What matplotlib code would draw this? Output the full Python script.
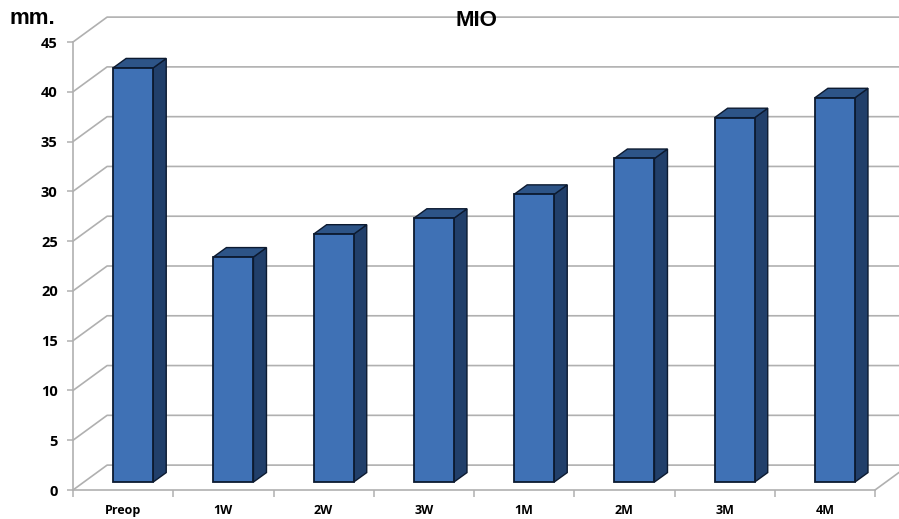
import matplotlib
matplotlib.use("Agg")
import matplotlib.pyplot as plt
from matplotlib.patches import Polygon

# maximum mouth opening by visit
visits = ["Preop", "1W", "2W", "3W", "1M", "2M", "3M", "4M"]
mio = [41.6, 22.6, 24.9, 26.5, 28.9, 32.5, 36.6, 38.6]
y_ticks = [0, 5, 10, 15, 20, 25, 30, 35, 40, 45]

GRID = "#b0b0b0"
FRONT = "#3f71b5"
TOP = "#2d5487"
SIDE = "#213f6a"
EDGE = "#0c1a30"
LABEL_FONT = "Open Sans"

W, H = 899, 519
fig = plt.figure(figsize=(W / 100, H / 100), dpi=100)
ax = fig.add_axes([73 / W, (H - 490) / H, (875 - 73) / W, (490 - 42) / H])
ax.set_xlim(0, len(visits))
ax.set_ylim(0, 45)

# offsets of the back wall and of the bar depth, in data units
wall_dx, wall_dy = 0.34, 2.5
bar_dx, bar_dy = 0.13, 0.95
bar_x, bar_y = 0.1, 0.8
bar_w = 0.4

for v in y_ticks:
    ax.plot([0, wall_dx, 9], [v, v + wall_dy, v + wall_dy], color=GRID, lw=1.2,
            clip_on=False, zorder=1)
ax.plot([8, 8 + wall_dx], [0, wall_dy], color=GRID, lw=1.2, clip_on=False, zorder=1)

centers = [i + 0.5 + bar_x for i in range(len(visits))]
ax.bar(centers, mio, width=bar_w, bottom=bar_y, color=FRONT, edgecolor=EDGE,
       linewidth=1.3, zorder=3)

for c, v in zip(centers, mio):
    x0 = c - bar_w / 2
    x1 = c + bar_w / 2
    y0 = bar_y
    y1 = bar_y + v
    ax.add_patch(Polygon([(x1, y0), (x1 + bar_dx, y0 + bar_dy), (x1 + bar_dx, y1 + bar_dy), (x1, y1)],
                         facecolor=SIDE, edgecolor=EDGE, lw=1.0, zorder=2))
    ax.add_patch(Polygon([(x0, y1), (x0 + bar_dx, y1 + bar_dy), (x1 + bar_dx, y1 + bar_dy), (x1, y1)],
                         facecolor=TOP, edgecolor=EDGE, lw=1.0, zorder=2))

for s in ["top", "right"]:
    ax.spines[s].set_visible(False)
for s in ["left", "bottom"]:
    ax.spines[s].set_color(GRID)
    ax.spines[s].set_linewidth(1.2)

ax.set_yticks(y_ticks)
ax.tick_params(axis="y", length=4, width=1.1, color=GRID, pad=7, labelsize=10.5)
for t in ax.get_yticklabels():
    t.set_fontweight("bold")
    t.set_family(LABEL_FONT)
    t.set_y(t.get_position()[1])

ax.set_xticks(range(len(visits) + 1))
ax.set_xticklabels([])
ax.set_xticks([i + 0.5 for i in range(len(visits))], minor=True)
ax.set_xticklabels(visits, minor=True, fontsize=9, fontweight="bold", family=LABEL_FONT)
ax.tick_params(axis="x", which="major", length=5, width=1.1, color=GRID)
ax.tick_params(axis="x", which="minor", length=0, pad=10)

fig.text(476 / W, (H - 20) / H, "MIO", ha="center", va="center", fontsize=16,
         fontweight="bold", family="Liberation Sans")
fig.text(32 / W, (H - 18) / H, "mm.", ha="center", va="center", fontsize=16,
         fontweight="bold", family="Liberation Sans")

fig.savefig("out.png", dpi=100)
